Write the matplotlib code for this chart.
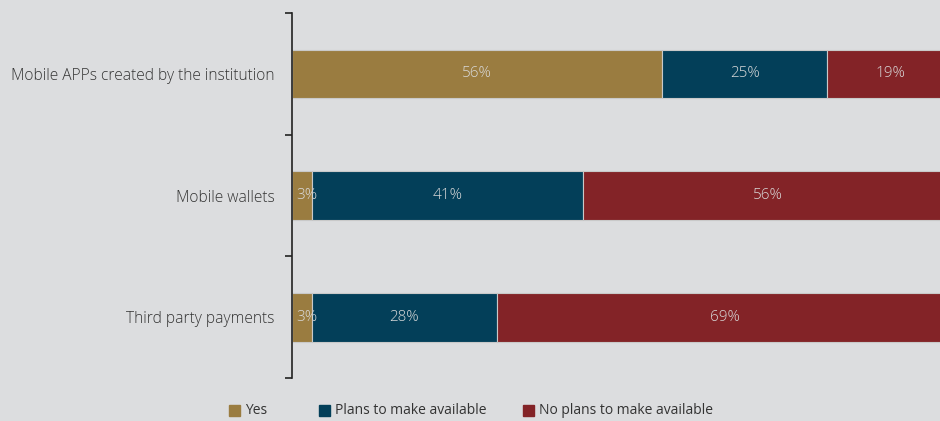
import matplotlib
matplotlib.use("Agg")
import matplotlib.pyplot as plt
from matplotlib.patches import Rectangle

categories = ["Mobile APPs created by the institution", "Mobile wallets", "Third party payments"]
series_names = ["Yes", "Plans to make available", "No plans to make available"]
yes = [56, 3, 3]
plans = [25, 41, 28]
no_plans = [19, 56, 69]
colors = ["#9a7c40", "#033f59", "#832327"]

bg = "#dcdddf"
plt.rcParams["font.family"] = ["Open Sans", "DejaVu Sans"]

fig = plt.figure(figsize=(9.4, 4.21), dpi=100, facecolor=bg)
W, H = 940, 421
ax = fig.add_axes([292 / W, 1 - 378 / H, (953 - 292) / W, (378 - 13) / H])
ax.set_facecolor(bg)

y = list(range(len(categories)))
left = [0] * len(categories)
for vals, col in zip([yes, plans, no_plans], colors):
    ax.barh(y, vals, left=left, height=0.4, color=col,
            edgecolor="#c9c9c9", linewidth=0.8)
    for yi, l, v in zip(y, left, vals):
        if v < 5:
            # narrow segment: start the label at the segment's left edge
            ax.text(l + 0.6, yi, f"{v}%", ha="left", va="center",
                    color="#d9d9d9", fontsize=11, fontweight="light")
        else:
            ax.text(l + v / 2, yi, f"{v}%", ha="center", va="center",
                    color="#d9d9d9", fontsize=11, fontweight="light")
    left = [a + b for a, b in zip(left, vals)]

ax.set_xlim(0, 100)
ax.set_ylim(2.5, -0.5)
ax.set_yticks(y)
ax.set_yticklabels(categories, fontsize=11.2, color="#333333", fontweight="light")
ax.set_yticks([-0.5, 0.5, 1.5, 2.5], minor=True)
ax.tick_params(axis="y", which="major", length=0, pad=12.5)
ax.tick_params(axis="y", which="minor", length=5, width=1.2, color="#222222")
ax.set_xticks([])
for s in ["top", "right", "bottom"]:
    ax.spines[s].set_visible(False)
ax.spines["left"].set_color("#222222")
ax.spines["left"].set_linewidth(1.2)

# legend row beneath the bars
legend_x = [229, 319, 523]
for x0, name, col in zip(legend_x, series_names, colors):
    fig.patches.append(Rectangle((x0 / W, 1 - 416 / H), 11 / W, 11 / H,
                                 transform=fig.transFigure, color=col))
    fig.text((x0 + 16) / W, 1 - 410 / H, name, ha="left", va="center",
             fontsize=10, color="#333333")

fig.savefig("out.png", dpi=100, facecolor=bg)
